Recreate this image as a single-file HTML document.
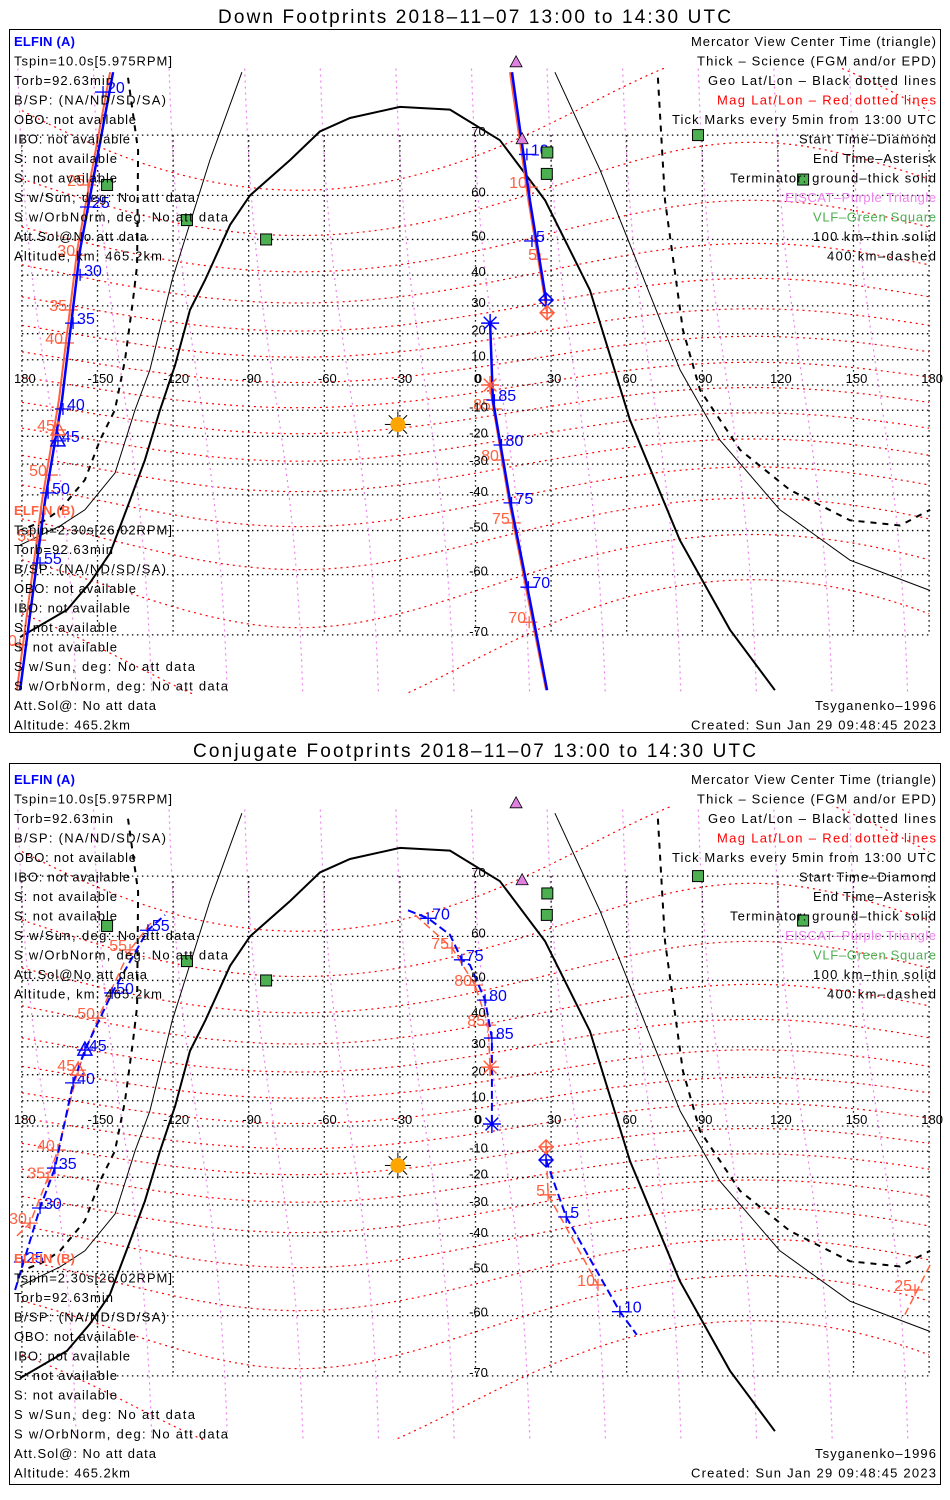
<!DOCTYPE html>
<html><head><meta charset="utf-8">
<style>
html,body{margin:0;padding:0;background:#fff;}
svg{display:block;}
text{font-family:"Liberation Sans",sans-serif;}
.lt{font-size:13px;fill:#000;}
.rt{font-size:13px;fill:#000;text-anchor:end;}
.ttl{font-size:19px;fill:#000;}
.ax{font-size:13px;fill:#000;text-anchor:middle;}
</style></head>
<body>
<svg id="chart" xmlns="http://www.w3.org/2000/svg" width="950" height="1500" viewBox="0 0 950 1500">
<defs>
<clipPath id="clipTop"><rect x="10" y="68" width="930" height="626"/></clipPath>
<clipPath id="clipBot"><rect x="10" y="806" width="930" height="634"/></clipPath>
</defs>
<rect x="0" y="0" width="950" height="1500" fill="#fff"/>

<g>
<text class="ttl" x="218" y="23" textLength="513">Down Footprints 2018–11–07 13:00 to 14:30 UTC</text>
<rect x="9.5" y="29.5" width="931" height="703" fill="none" stroke="#000" stroke-width="1"/>
<g id="mapTop" clip-path="url(#clipTop)"></g>
<g id="axTop"></g>
<g id="trkTop"></g>
<g>
<text class="lt" x="14" y="46" style="fill:#0000ff;font-weight:bold" textLength="61">ELFIN (A)</text>
<text class="lt" x="14" y="65.5" textLength="158">Tspin=10.0s[5.975RPM]</text>
<text class="lt" x="14" y="85" textLength="99">Torb=92.63min</text>
<text class="lt" x="14" y="104.5" textLength="152">B/SP: (NA/ND/SD/SA)</text>
<text class="lt" x="14" y="124" textLength="122">OBO: not available</text>
<text class="lt" x="14" y="143.5" textLength="116">IBO: not available</text>
<text class="lt" x="14" y="163" textLength="103">S: not available</text>
<text class="lt" x="14" y="182.5" textLength="103">S: not available</text>
<text class="lt" x="14" y="202" textLength="181">S w/Sun, deg: No att data</text>
<text class="lt" x="14" y="221.5" textLength="214">S w/OrbNorm, deg: No att data</text>
<text class="lt" x="14" y="241" textLength="133">Att.Sol@No att data</text>
<text class="lt" x="14" y="260.5" textLength="148">Altitude, km: 465.2km</text>
</g>
<g>
<text class="lt" x="14" y="515" style="fill:#ff6040;font-weight:bold" textLength="61">ELFIN (B)</text>
<text class="lt" x="14" y="534.5" textLength="158">Tspin=2.30s[26.02RPM]</text>
<text class="lt" x="14" y="554" textLength="99">Torb=92.63min</text>
<text class="lt" x="14" y="573.5" textLength="152">B/SP: (NA/ND/SD/SA)</text>
<text class="lt" x="14" y="593" textLength="122">OBO: not available</text>
<text class="lt" x="14" y="612.5" textLength="116">IBO: not available</text>
<text class="lt" x="14" y="632" textLength="103">S: not available</text>
<text class="lt" x="14" y="651.5" textLength="103">S: not available</text>
<text class="lt" x="14" y="671" textLength="181">S w/Sun, deg: No att data</text>
<text class="lt" x="14" y="690.5" textLength="214">S w/OrbNorm, deg: No att data</text>
<text class="lt" x="14" y="710" textLength="142">Att.Sol@: No att data</text>
<text class="lt" x="14" y="729.5" textLength="116">Altitude: 465.2km</text>
</g>
<g>
<text class="rt" x="936" y="46" textLength="245">Mercator View Center Time (triangle)</text>
<text class="rt" x="936" y="65.5" textLength="239">Thick – Science (FGM and/or EPD)</text>
<text class="rt" x="936" y="85" textLength="228">Geo Lat/Lon – Black dotted lines</text>
<text class="rt" x="936" y="104.5" style="fill:#ff0000" textLength="219">Mag Lat/Lon – Red dotted lines</text>
<text class="rt" x="936" y="124" textLength="264">Tick Marks every 5min from 13:00 UTC</text>
<text class="rt" x="936" y="143.5" textLength="137">Start Time–Diamond</text>
<text class="rt" x="936" y="163" textLength="123">End Time–Asterisk</text>
<text class="rt" x="936" y="182.5" textLength="206">Terminator: ground–thick solid</text>
<text class="rt" x="936" y="202" style="fill:#ee82ee" textLength="151">EISCAT–Purple Triangle</text>
<text class="rt" x="936" y="221.5" style="fill:#4caf50" textLength="123">VLF–Green Square</text>
<text class="rt" x="936" y="241" textLength="123">100 km–thin solid</text>
<text class="rt" x="936" y="260.5" textLength="109">400 km–dashed</text>
<text class="rt" x="936" y="710" textLength="121">Tsyganenko–1996</text>
<text class="rt" x="936" y="729.5" textLength="245">Created: Sun Jan 29 09:48:45 2023</text>
</g>
</g>

<g>
<text class="ttl" x="193" y="757" textLength="563">Conjugate Footprints 2018–11–07 13:00 to 14:30 UTC</text>
<rect x="9.5" y="763.5" width="931" height="721" fill="none" stroke="#000" stroke-width="1"/>
<g id="mapBot" clip-path="url(#clipBot)"></g>
<g id="axBot"></g>
<g id="trkBot"></g>
<g>
<text class="lt" x="14" y="784" style="fill:#0000ff;font-weight:bold" textLength="61">ELFIN (A)</text>
<text class="lt" x="14" y="803.5" textLength="158">Tspin=10.0s[5.975RPM]</text>
<text class="lt" x="14" y="823" textLength="99">Torb=92.63min</text>
<text class="lt" x="14" y="842.5" textLength="152">B/SP: (NA/ND/SD/SA)</text>
<text class="lt" x="14" y="862" textLength="122">OBO: not available</text>
<text class="lt" x="14" y="881.5" textLength="116">IBO: not available</text>
<text class="lt" x="14" y="901" textLength="103">S: not available</text>
<text class="lt" x="14" y="920.5" textLength="103">S: not available</text>
<text class="lt" x="14" y="940" textLength="181">S w/Sun, deg: No att data</text>
<text class="lt" x="14" y="959.5" textLength="214">S w/OrbNorm, deg: No att data</text>
<text class="lt" x="14" y="979" textLength="133">Att.Sol@No att data</text>
<text class="lt" x="14" y="998.5" textLength="148">Altitude, km: 465.2km</text>
</g>
<g>
<text class="lt" x="14" y="1263" style="fill:#ff6040;font-weight:bold" textLength="61">ELFIN (B)</text>
<text class="lt" x="14" y="1282.5" textLength="158">Tspin=2.30s[26.02RPM]</text>
<text class="lt" x="14" y="1302" textLength="99">Torb=92.63min</text>
<text class="lt" x="14" y="1321.5" textLength="152">B/SP: (NA/ND/SD/SA)</text>
<text class="lt" x="14" y="1341" textLength="122">OBO: not available</text>
<text class="lt" x="14" y="1360.5" textLength="116">IBO: not available</text>
<text class="lt" x="14" y="1380" textLength="103">S: not available</text>
<text class="lt" x="14" y="1399.5" textLength="103">S: not available</text>
<text class="lt" x="14" y="1419" textLength="181">S w/Sun, deg: No att data</text>
<text class="lt" x="14" y="1438.5" textLength="214">S w/OrbNorm, deg: No att data</text>
<text class="lt" x="14" y="1458" textLength="142">Att.Sol@: No att data</text>
<text class="lt" x="14" y="1477.5" textLength="116">Altitude: 465.2km</text>
</g>
<g>
<text class="rt" x="936" y="784" textLength="245">Mercator View Center Time (triangle)</text>
<text class="rt" x="936" y="803.5" textLength="239">Thick – Science (FGM and/or EPD)</text>
<text class="rt" x="936" y="823" textLength="228">Geo Lat/Lon – Black dotted lines</text>
<text class="rt" x="936" y="842.5" style="fill:#ff0000" textLength="219">Mag Lat/Lon – Red dotted lines</text>
<text class="rt" x="936" y="862" textLength="264">Tick Marks every 5min from 13:00 UTC</text>
<text class="rt" x="936" y="881.5" textLength="137">Start Time–Diamond</text>
<text class="rt" x="936" y="901" textLength="123">End Time–Asterisk</text>
<text class="rt" x="936" y="920.5" textLength="206">Terminator: ground–thick solid</text>
<text class="rt" x="936" y="940" style="fill:#ee82ee" textLength="151">EISCAT–Purple Triangle</text>
<text class="rt" x="936" y="959.5" style="fill:#4caf50" textLength="123">VLF–Green Square</text>
<text class="rt" x="936" y="979" textLength="123">100 km–thin solid</text>
<text class="rt" x="936" y="998.5" textLength="109">400 km–dashed</text>
<text class="rt" x="936" y="1458" textLength="121">Tsyganenko–1996</text>
<text class="rt" x="936" y="1477.5" textLength="245">Created: Sun Jan 29 09:48:45 2023</text>
</g>
</g>
</svg>

<script>
const lonTicks = [-180,-150,-120,-90,-60,-30,0,30,60,90,120,150,180];
const lonTickLabels = ['180','-150','-120','-90','-60','-30','0','30','60','90','120','150','180'];
const latTicks = [-70,-60,-50,-40,-30,-20,-10,0,10,20,30,40,50,60,70];
const magLats = [-70,-60,-50,-40,-30,-20,-10,0,10,20,30,40,50,60,70];
const magLons = [-170,-140,-110,-80,-50,-20,10,40,70,100,130,160];

const termThick = [[-180.7,-70.3],[-162.1,-66.3],[-153,-61.6],[-145,-55.4],[-137.1,-41.6],[-131.2,-28.6],[-125.2,-9.9],[-119.2,7.9],[-113.3,28.6],[-107.3,38.5],[-97.4,53.6],[-89.5,60],[-73.6,66.3],[-61.7,70.5],[-49.8,72.2],[-30,73.5],[-10.1,73.2],[9.7,69.3],[27.6,59],[45.4,35.3],[61.3,-13.8],[81.1,-52.4],[101,-69.3],[118.8,-76.3]];
const termThinLeft = [[-180.8,-53.6],[-164.9,-48.8],[-155,-44.4],[-143,-33],[-135.1,-9.9],[-129.2,6],[-120.4,38.5],[-105.4,66.3],[-92.7,77]];
const termThinRight = [[31.5,77],[49.4,64.7],[65.3,41.6],[81.2,6],[97,-21.4],[120.8,-44.4],[148.6,-57],[180.4,-63]];
const termDashLeft = [[-137.9,76.5],[-133.9,67.8],[-134.3,42.9],[-135.9,32],[-139.1,9.9],[-143.1,-9.9],[-149,-21.4],[-155,-35.3],[-164.9,-44.4],[-170.8,-47.3],[-180.8,-50]];
const termDashRight = [[72.4,76.5],[75.2,59],[82.3,21.4],[89.1,-2],[105,-25],[124.8,-38.5],[148.6,-47.3],[168.5,-48.7],[180.4,-44.4]];

const vlfStations = [[-146.2,62],[-114.5,54.7],[-83.1,50],[28.5,67.5],[28.3,64],[88.3,70],[130,63]];
const viewCenter = [16.1,77.9];
const eiscat = [18.5,69.5];
const sunPos = [-30.8,-15.5];

const downA1Line = [[-143.8,77],[-156.9,47.3],[-164.1,-6],[-170.8,-41.6],[-180.7,-76.3]];
const downA1Labels = ['20','25','30','35','40','45','50','55'];
const downA1Ticks = [[-147.8,75.1],[-153.8,57.6],[-156.9,40.1],[-159.7,23.9],[-163.7,-9.5],[-165.7,-21.7],[-169.6,-39.4],[-172.8,-57.6]];
const downB1Line = [[-145,77],[-158,47.3],[-165.3,-6],[-172,-41.6],[-182,-76.3]];
const downB1Labels = ['25','30','35','40','45','50','55','60'];
const downB1Ticks = [[-153.8,62],[-157.7,45.8],[-160.9,28.6],[-162.5,16.5],[-165.7,-17.6],[-168.9,-33.7],[-173.6,-52.4],[-180.8,-71.3]];
const downA2aLine = [[14.5,77],[21.6,59],[28,32]];
const downA2aLabels = ['10','5'];
const downA2aTicks = [[20.4,67.2],[22.4,49.6]];
const downB2aLine = [[13.7,77],[21,59],[28.4,27.6]];
const downB2aLabels = ['10','5'];
const downB2aTicks = [[21.6,61.6],[25.6,44.7]];
const downA2bLine = [[5.8,23.9],[6.9,-6],[13.7,-41.6],[21.6,-64.7],[28.4,-76.3]];
const downA2bLabels = ['85','80','75','70'];
const downA2bTicks = [[7.5,-6],[10.3,-23.2],[14.3,-42.4],[21,-62.4]];
const downB2bLine = [[5.8,0],[6.6,-6],[13.2,-41.6],[21,-64.7],[28,-76.3]];
const downB2bLabels = ['85','80','75','70'];
const downB2bTicks = [[7.3,-9.5],[10.5,-28.6],[14.8,-48],[21.3,-68.2]];

const conjA1Line = [[-182.7,-54.5],[-172.8,-31],[-166.9,-16.5],[-159.7,16.9],[-155,28.9],[-144.2,46.7],[-130,61.2],[-123.2,64]];
const conjA1Labels = ['25','30','35','40','45','50','55'];
const conjA1Ticks = [[-180,-47.5],[-172.8,-31],[-166.9,-16.5],[-159.7,16.9],[-155,28.9],[-144.2,46.7],[-130,61.2]];
const conjB1Line = [[-182,-40],[-176.8,-36],[-169.6,-20],[-165.7,-9.5],[-157.7,21.7],[-149.8,39.4],[-137.1,57.2],[-128,63]];
const conjB1Labels = ['30','35','40','45','50','55'];
const conjB1Ticks = [[-176.8,-36],[-169.6,-20],[-165.7,-9.5],[-157.7,21.7],[-149.8,39.4],[-137.1,57.2]];
const conjB1rLine = [[180.4,-48.3],[170.4,-59.8]];
const conjB1rLabels = ['25'];
const conjB1rTicks = [[174.4,-54.5]];
const conjA2aLine = [[-26.8,64.8],[-18.8,63.4],[-10.1,60.3],[-5.4,55],[-2.2,53.8],[3.8,44.7],[6.5,33],[6.5,0.8]];
const conjA2aLabels = ['70','75','80','85'];
const conjA2aTicks = [[-18.8,63.4],[-5.4,55],[3.8,44.7],[6.5,33]];
const conjB2aLine = [[-24,64],[-9.3,57.6],[-0.2,48.8],[5,37.2],[5.8,22.8]];
const conjB2aLabels = ['75','80','85'];
const conjB2aTicks = [[-9.3,57.6],[-0.2,48.8],[5,37.2]];
const conjA2bLine = [[28,-13.4],[36,-34],[57.3,-59.2],[64,-63.6]];
const conjA2bLabels = ['5','10'];
const conjA2bTicks = [[36,-34],[57.3,-59.2]];
const conjB2bLine = [[28,-8.3],[28.8,-26.4],[48.6,-53.3]];
const conjB2bLabels = ['5','10'];
const conjB2bTicks = [[28.8,-26.4],[48.6,-53.3]];

const NS = 'http://www.w3.org/2000/svg';
const BLUE = '#0000ff', RED = '#ff6040';
function X(lon){ return 475.5 + lon * 2.52; }
function Y(lat, off){ return 385 + off - 144 * Math.log(Math.tan(Math.PI/4 + lat * Math.PI / 360)); }
function el(tag, attrs){ const e = document.createElementNS(NS, tag); for (const k in attrs) e.setAttribute(k, attrs[k]); return e; }
function pts(arr, off){ return arr.map(p => X(p[0]).toFixed(1) + ',' + Y(p[1], off).toFixed(1)).join(' '); }

function drawMap(gid, off, prefix){
  const g = document.getElementById(gid);
  magLats.forEach(m => {
    const a = [];
    for (let lon = -180; lon <= 180; lon += 5) a.push([lon, Math.max(-85, Math.min(85, m + 9 * Math.cos((lon - 110) * Math.PI / 180)))]);
    const p = el('polyline', {points: pts(a, off), fill: 'none', stroke: '#ff0000', 'stroke-width': 1.2, 'stroke-dasharray': '2,4'});
    
    
    g.appendChild(p);
  });
  magLons.forEach(L => {
    const a = [];
    for (let lat = -78; lat <= 78; lat += 4) a.push([L - 0.15 * lat, lat]);
    const p = el('polyline', {points: pts(a, off), fill: 'none', stroke: '#ee82ee', 'stroke-width': 1.2, 'stroke-dasharray': '2,4'});
    
    
    g.appendChild(p);
  });
  latTicks.forEach(lat => {
    const l = el('line', {x1: X(-180), x2: X(180), y1: Y(lat, off), y2: Y(lat, off), stroke: '#000', 'stroke-width': 1.3, 'stroke-dasharray': '1.5,3.5'});
    
    
    g.appendChild(l);
  });
  lonTicks.forEach(lon => {
    const l = el('line', {x1: X(lon), x2: X(lon), y1: Y(70, off), y2: Y(-70, off), stroke: '#000', 'stroke-width': 1.3, 'stroke-dasharray': '1.5,3.5'});
    
    
    g.appendChild(l);
  });
  const t1 = el('polyline', {points: pts(termThick, off), fill: 'none', stroke: '#000', 'stroke-width': 2});
  
  
  g.appendChild(t1);
  [termThinLeft, termThinRight].forEach(t => {
    const p = el('polyline', {points: pts(t, off), fill: 'none', stroke: '#000', 'stroke-width': 1});
    
    
    g.appendChild(p);
  });
  [termDashLeft, termDashRight].forEach(t => {
    const p = el('polyline', {points: pts(t, off), fill: 'none', stroke: '#000', 'stroke-width': 2, 'stroke-dasharray': '6,6'});
    
    
    g.appendChild(p);
  });
}

function drawAxes(gid, off, prefix){
  const g = document.getElementById(gid);
  lonTicks.forEach((lon, i) => {
    const t = el('text', {class: 'ax', x: X(lon) + 3, y: Y(0, off) - 2});
    t.textContent = lonTickLabels[i];
    
    
    g.appendChild(t);
  });
  latTicks.forEach(lat => {
    if (lat === 0) return;
    const t = el('text', {class: 'ax', x: X(0) + 3, y: Y(lat, off) + 1});
    t.textContent = String(lat);
    
    
    g.appendChild(t);
  });
  const z = el('text', {class: 'ax', x: X(0) + 2, y: Y(0, off) - 2});
  z.textContent = '0';
  
  
  g.appendChild(z);
}

function drawMarkers(gid, off, prefix){
  const g = document.getElementById(gid);
  vlfStations.forEach(s => {
    const r = el('rect', {x: X(s[0]) - 5.5, y: Y(s[1], off) - 5.5, width: 11, height: 11, fill: '#4caf50', stroke: '#000', 'stroke-width': 1});
    
    
    g.appendChild(r);
  });
  [viewCenter, eiscat].forEach((s, i) => {
    const x = X(s[0]), y = Y(s[1], off);
    const p = el('polygon', {points: `${x},${y-6} ${x-6},${y+5} ${x+6},${y+5}`, fill: '#e080e0', stroke: '#000', 'stroke-width': 0.8});
    
    
    g.appendChild(p);
  });
  const sx = X(sunPos[0]), sy = Y(sunPos[1], off);
  for (let k = 0; k < 8; k++){
    const a = k * Math.PI / 4;
    const l = el('line', {x1: sx + 7*Math.cos(a), y1: sy + 7*Math.sin(a), x2: sx + 13*Math.cos(a), y2: sy + 13*Math.sin(a), stroke: '#000', 'stroke-width': 1});
    
    
    g.appendChild(l);
  }
  const c = el('circle', {cx: sx, cy: sy, r: 7.5, fill: '#ffa500'});
  
  
  g.appendChild(c);
}

function drawTrack(gid, off, prefix, line, labels, ticks, color, width, dash, side){
  const g = document.getElementById(gid);
  const attrs = {points: pts(line, off), fill: 'none', stroke: color, 'stroke-width': width};
  if (dash) attrs['stroke-dasharray'] = dash;
  const p = el('polyline', attrs);
  
  
  g.appendChild(p);
  ticks.forEach((tk, i) => {
    const x = X(tk[0]), y = Y(tk[1], off);
    const h = el('line', {x1: x - 8, x2: x + 8, y1: y, y2: y, stroke: color, 'stroke-width': 1.3});
    
    
    g.appendChild(h);
    const v = el('line', {x1: x, x2: x, y1: y - 6, y2: y + 6, stroke: color, 'stroke-width': 1.3});
    
    
    g.appendChild(v);
    const t = el('text', {x: side > 0 ? x + 4 : x - 3, y: y + 1, 'font-size': 16, fill: color, 'text-anchor': side > 0 ? 'start' : 'end'});
    t.textContent = labels[i];
    
    
    g.appendChild(t);
  });
}

function diamond(gid, off, prefix, pos, color){
  const g = document.getElementById(gid);
  const x = X(pos[0]), y = Y(pos[1], off);
  const d = el('path', {d: `M${x},${y-7} L${x+7},${y} L${x},${y+7} L${x-7},${y} Z M${x-7},${y} L${x+7},${y} M${x},${y-7} L${x},${y+7}`, fill: 'none', stroke: color, 'stroke-width': 1.5});
  
  
  g.appendChild(d);
}
function asterisk(gid, off, prefix, pos, color){
  const g = document.getElementById(gid);
  const x = X(pos[0]), y = Y(pos[1], off);
  let s = '';
  for (let k = 0; k < 4; k++){ const a = k * Math.PI / 4; s += `M${x - 9*Math.cos(a)},${y - 9*Math.sin(a)} L${x + 9*Math.cos(a)},${y + 9*Math.sin(a)} `; }
  const d = el('path', {d: s, fill: 'none', stroke: color, 'stroke-width': 1.5});
  
  
  g.appendChild(d);
}
function tri(gid, off, prefix, pos, color){
  const g = document.getElementById(gid);
  const x = X(pos[0]), y = Y(pos[1], off);
  const d = el('polygon', {points: `${x},${y-8} ${x-7},${y+5} ${x+7},${y+5}`, fill: 'none', stroke: color, 'stroke-width': 1.5});
  
  
  g.appendChild(d);
}

const OT = 0, OB = 741;
drawMap('mapTop', OT, 'down');
drawAxes('axTop', OT, 'down');
drawMarkers('trkTop', OT, 'down');
drawTrack('mapTop', OT, 'down-elfin-b', downB1Line, downB1Labels, downB1Ticks, RED, 2, null, -1);
drawTrack('mapTop', OT, 'down-elfin-a', downA1Line, downA1Labels, downA1Ticks, BLUE, 2.5, null, 1);
drawTrack('mapTop', OT, 'down-elfin-b', downB2aLine, downB2aLabels, downB2aTicks, RED, 2, null, -1);
drawTrack('mapTop', OT, 'down-elfin-a', downA2aLine, downA2aLabels, downA2aTicks, BLUE, 2.5, null, 1);
drawTrack('mapTop', OT, 'down-elfin-b', downB2bLine, downB2bLabels, downB2bTicks, RED, 2, null, -1);
drawTrack('mapTop', OT, 'down-elfin-a', downA2bLine, downA2bLabels, downA2bTicks, BLUE, 2.5, null, 1);
tri('trkTop', OT, 'down-elfin-a', downA1Ticks[5], BLUE);
tri('trkTop', OT, 'down-elfin-b', downB1Ticks[4], RED);
diamond('trkTop', OT, 'down-elfin-a', downA2aLine[downA2aLine.length-1], BLUE);
diamond('trkTop', OT, 'down-elfin-b', downB2aLine[downB2aLine.length-1], RED);
asterisk('trkTop', OT, 'down-elfin-a', downA2bLine[0], BLUE);
asterisk('trkTop', OT, 'down-elfin-b', downB2bLine[0], RED);

drawMap('mapBot', OB, 'conjugate');
drawAxes('axBot', OB, 'conjugate');
drawMarkers('trkBot', OB, 'conjugate');
drawTrack('mapBot', OB, 'conjugate-elfin-b', conjB1Line, conjB1Labels, conjB1Ticks, RED, 1.5, '8,4', -1);
drawTrack('mapBot', OB, 'conjugate-elfin-a', conjA1Line, conjA1Labels, conjA1Ticks, BLUE, 2, '8,4', 1);
drawTrack('mapBot', OB, 'conjugate-elfin-b', conjB1rLine, conjB1rLabels, conjB1rTicks, RED, 1.5, '8,4', -1);
drawTrack('mapBot', OB, 'conjugate-elfin-b', conjB2aLine, conjB2aLabels, conjB2aTicks, RED, 1.5, '8,4', -1);
drawTrack('mapBot', OB, 'conjugate-elfin-a', conjA2aLine, conjA2aLabels, conjA2aTicks, BLUE, 2, '8,4', 1);
drawTrack('mapBot', OB, 'conjugate-elfin-b', conjB2bLine, conjB2bLabels, conjB2bTicks, RED, 1.5, '8,4', -1);
drawTrack('mapBot', OB, 'conjugate-elfin-a', conjA2bLine, conjA2bLabels, conjA2bTicks, BLUE, 2, '8,4', 1);
tri('trkBot', OB, 'conjugate-elfin-a', conjA1Ticks[4], BLUE);
tri('trkBot', OB, 'conjugate-elfin-b', conjB1Ticks[3], RED);
diamond('trkBot', OB, 'conjugate-elfin-a', conjA2bLine[0], BLUE);
diamond('trkBot', OB, 'conjugate-elfin-b', conjB2bLine[0], RED);
asterisk('trkBot', OB, 'conjugate-elfin-a', conjA2aLine[conjA2aLine.length-1], BLUE);
asterisk('trkBot', OB, 'conjugate-elfin-b', conjB2aLine[conjB2aLine.length-1], RED);
</script>
</body></html>
